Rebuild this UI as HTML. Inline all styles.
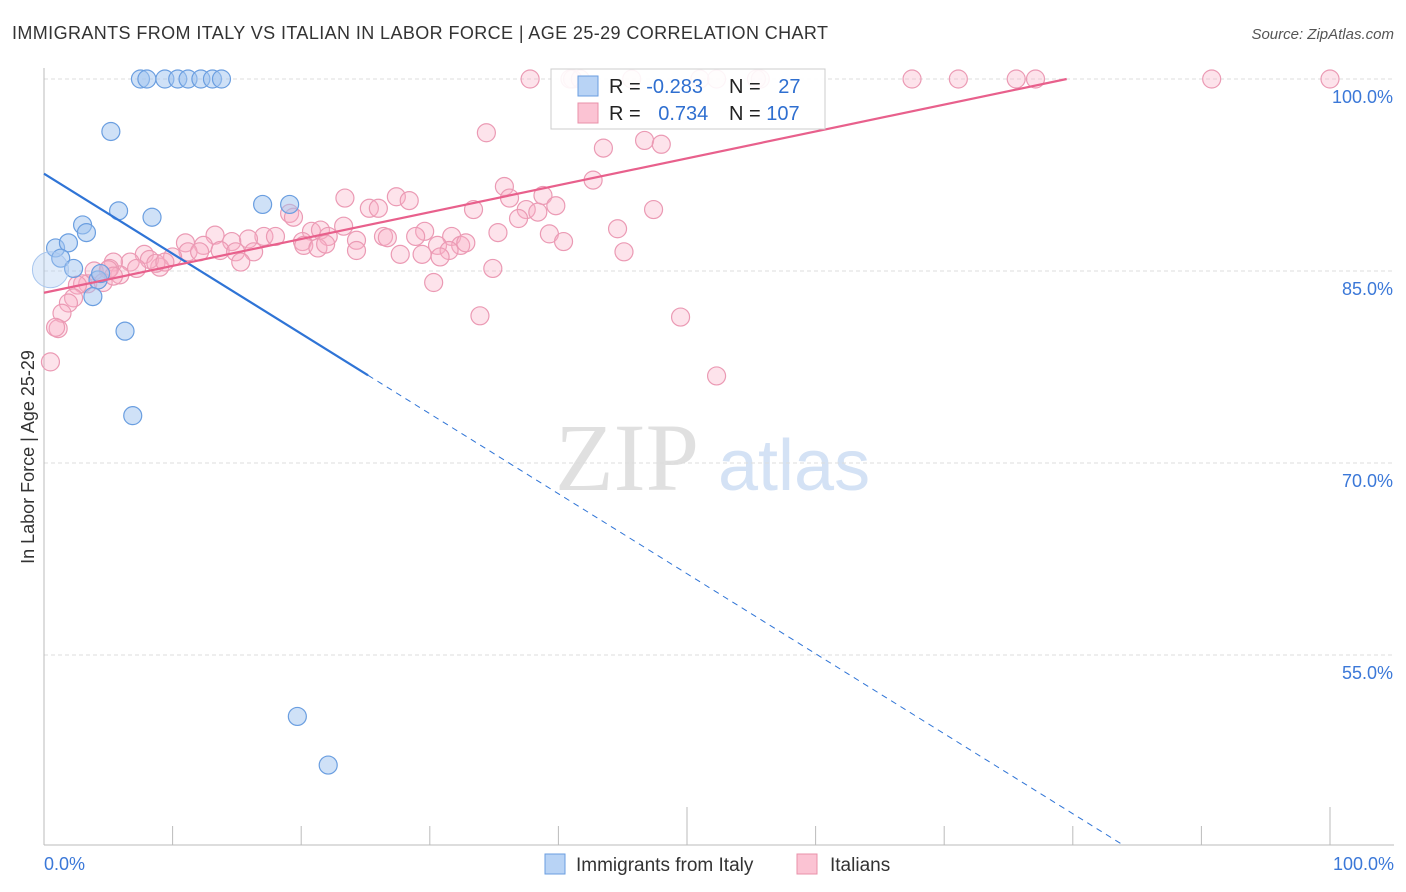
<!DOCTYPE html>
<html><head><meta charset="utf-8"><style>
body{margin:0;background:#fff;font-family:"Liberation Sans",sans-serif;}
svg{display:block}
</style></head><body>
<svg id="chart" width="1406" height="892" viewBox="0 0 1406 892" xmlns="http://www.w3.org/2000/svg">
<text x="12" y="39" font-size="18" fill="#333" textLength="816" lengthAdjust="spacing">IMMIGRANTS FROM ITALY VS ITALIAN IN LABOR FORCE | AGE 25-29 CORRELATION CHART</text>
<text x="1394" y="39" font-size="15" fill="#555" font-style="italic" text-anchor="end">Source: ZipAtlas.com</text>
<g>
<text x="555" y="490" font-size="96" font-family="Liberation Serif,serif" fill="#e0e0e0">ZIP</text>
<text x="718" y="490" font-size="72" fill="#d4e2f5">atlas</text>
</g>
<g id="grid"></g>
<g id="axes"></g>
<g id="pinkPts"></g>
<g id="bluePts"></g>
<g id="lines"></g>
<text transform="translate(34,457) rotate(-90)" font-size="18" fill="#333" text-anchor="middle">In Labor Force | Age 25-29</text>
<g>
<rect x="551" y="69" width="274" height="60" fill="#fff" fill-opacity="0.9" stroke="#ccc"/>
<rect x="578" y="76" width="20" height="20" fill="#b8d3f5" stroke="#6a9ee0"/>
<rect x="578" y="103" width="20" height="20" fill="#fbc3d3" stroke="#e890aa"/>
<text x="609" y="93" font-size="20" fill="#222">R = <tspan fill="#2f6fd0">-0.283</tspan></text>
<text x="729" y="93" font-size="20" fill="#222">N = <tspan fill="#2f6fd0" dx="12">27</tspan></text>
<text x="609" y="120" font-size="20" fill="#222">R = <tspan fill="#2f6fd0" dx="12">0.734</tspan></text>
<text x="729" y="120" font-size="20" fill="#222">N = <tspan fill="#2f6fd0">107</tspan></text>
</g>
<g>
<rect x="545" y="854" width="20" height="20" fill="#b8d3f5" stroke="#6a9ee0"/>
<text x="576" y="871" font-size="19" fill="#333">Immigrants from Italy</text>
<rect x="797" y="854" width="20" height="20" fill="#fbc3d3" stroke="#e890aa"/>
<text x="830" y="871" font-size="19" fill="#333">Italians</text>
</g>
<text x="44" y="870" font-size="18" fill="#3b78d8">0.0%</text>
<text x="1394" y="870" font-size="18" fill="#3b78d8" text-anchor="end">100.0%</text>
</svg>
<script>
const yTicks=[100,85,70,55];
const yTickLabels=["100.0%","85.0%","70.0%","55.0%"];
const xTicks=[0,10,20,30,40,50,60,70,80,90,100];
const blueX=[7.5,8.0,9.4,10.4,11.2,12.2,13.1,13.8,5.2,5.8,8.4,17.0,19.1,3.0,3.3,0.9,1.9,1.3,2.3,4.2,4.4,3.8,6.3,6.9,19.7,22.1];
const blueY=[100,100,100,100,100,100,100,100,95.9,89.7,89.2,90.2,90.2,88.6,88.0,86.8,87.2,86.0,85.2,84.3,84.8,83.0,80.3,73.7,50.2,46.4];
const blueBigX=[0.5];
const blueBigY=[85.1];
const pinkX=[37.8,41.1,45.7,55.4,67.5,71.1,75.6,77.1,90.8,100,40.9,41.7,51.0,52.3,55.7,
34.4,43.5,46.7,48.0,42.7,35.8,36.2,38.8,23.4,27.4,28.4,25.3,26.0,39.8,33.4,37.5,38.4,36.9,47.4,19.1,19.4,44.6,23.3,35.3,39.3,20.8,21.5,29.6,17.1,18.0,15.9,13.3,14.6,11.0,12.4,13.7,11.2,12.1,14.9,16.3,20.1,22.1,26.4,24.3,26.7,28.9,31.7,32.4,32.8,30.6,20.2,21.3,21.9,24.3,27.7,29.4,31.5,30.8,40.4,45.1,15.3,10.0,9.0,7.8,8.2,8.7,9.4,6.7,5.4,5.9,5.1,3.9,3.4,3.0,2.6,2.3,1.9,1.4,1.1,0.9,0.5,30.3,34.9,33.9,49.5,52.3,5.0,4.6,7.2,5.4];
const pinkY=[100,100,100,100,100,100,100,100,100,100,100,100,100,100,100,
95.8,94.6,95.2,94.9,92.1,91.6,90.7,90.9,90.7,90.8,90.5,89.9,89.9,90.1,89.8,89.8,89.6,89.1,89.8,89.5,89.2,88.3,88.5,88.0,87.9,88.1,88.2,88.1,87.7,87.7,87.5,87.8,87.3,87.2,87.0,86.6,86.5,86.5,86.5,86.5,87.3,87.7,87.7,87.4,87.6,87.7,87.7,87.0,87.2,87.0,87.0,86.8,87.1,86.6,86.3,86.3,86.6,86.1,87.3,86.5,85.7,86.1,85.3,86.3,85.9,85.6,85.7,85.7,85.7,84.7,85.2,85.0,84.0,84.0,83.9,82.9,82.5,81.7,80.5,80.6,77.9,84.1,85.2,81.5,81.4,76.8,85.1,84.1,85.2,84.6];
const blueTrend=[92.6,-0.625];   // intercept, slope
const blueSolidEnd=[25.2];
const pinkTrend=[83.3,0.21];
const NS="http://www.w3.org/2000/svg";
function sx(v){return 44+v*12.86;}
function sy(v){return 79+(100-v)*12.8;}
function mk(tag,attrs,parent){const e=document.createElementNS(NS,tag);for(const k in attrs)e.setAttribute(k,attrs[k]);document.getElementById(parent).appendChild(e);return e;}
yTicks.forEach((t,i)=>{
  const l=mk('line',{x1:44,x2:1394,y1:sy(t),y2:sy(t),stroke:'#ddd','stroke-dasharray':'4,3'},'grid');
  
  
  const tx=mk('text',{x:1393,y:sy(t)+24,'font-size':18,fill:'#3b78d8','text-anchor':'end'},'grid');
  tx.textContent=yTickLabels[i];
  
  
});
let ax=mk('line',{x1:44,x2:44,y1:68,y2:845,stroke:'#bbb'},'axes');


ax=mk('line',{x1:44,x2:1394,y1:845,y2:845,stroke:'#bbb'},'axes');


xTicks.forEach(t=>{
  const tall=(t===50||t===100);
  const l=mk('line',{x1:sx(t),x2:sx(t),y1:tall?807:826,y2:845,stroke:'#bbb'},'axes');
  
  
});
pinkX.forEach((v,i)=>{
  const c=mk('circle',{cx:sx(v),cy:sy(pinkY[i]),r:9,fill:'rgba(248,175,198,0.35)',stroke:'#eb9ab4','stroke-width':1.2},'pinkPts');
  
  
});
blueX.forEach((v,i)=>{
  const c=mk('circle',{cx:sx(v),cy:sy(blueY[i]),r:9,fill:'rgba(160,195,240,0.5)',stroke:'#6a9ee0','stroke-width':1.2},'bluePts');
  
  
});
blueBigX.forEach((v,i)=>{
  const c=mk('circle',{cx:sx(v),cy:sy(blueBigY[i]),r:18,fill:'rgba(170,200,240,0.35)',stroke:'#a8c6ee','stroke-width':1},'bluePts');
  
  
});
const bEnd=(40.1-blueTrend[0])/blueTrend[1];
let ln=mk('line',{x1:sx(0),y1:sy(blueTrend[0]),x2:sx(blueSolidEnd[0]),y2:sy(blueTrend[0]+blueTrend[1]*blueSolidEnd[0]),stroke:'#2f74d6','stroke-width':2.2},'lines');


ln=mk('line',{x1:sx(blueSolidEnd[0]),y1:sy(blueTrend[0]+blueTrend[1]*blueSolidEnd[0]),x2:sx(bEnd),y2:sy(40.1),stroke:'#2f74d6','stroke-width':1,'stroke-dasharray':'6,5'},'lines');


const pEnd=(100-pinkTrend[0])/pinkTrend[1];
ln=mk('line',{x1:sx(0),y1:sy(pinkTrend[0]),x2:sx(pEnd),y2:sy(100),stroke:'#e8608c','stroke-width':2.2},'lines');


</script>
</body></html>
